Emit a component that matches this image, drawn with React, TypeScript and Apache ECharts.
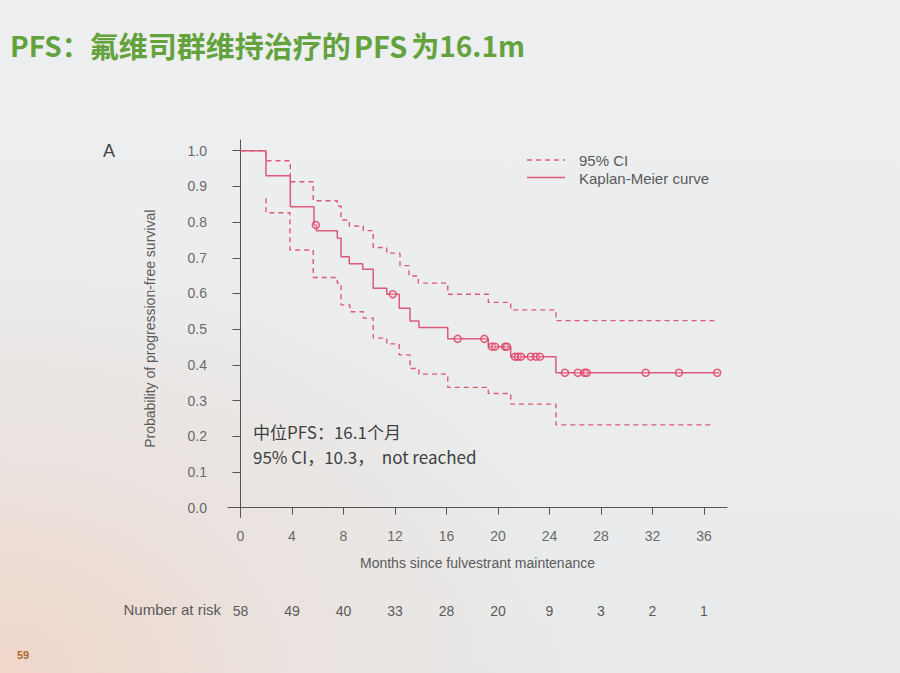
import React, { useEffect, useRef } from "react";
import * as echarts from "echarts";

// Kaplan-Meier step curve: [month, survival probability after the step]
const kmCurve: [number, number][] = [
  [0, 1.0], [1.98, 0.93], [3.87, 0.843], [5.71, 0.792], [5.9, 0.776], [7.52, 0.755],
  [7.81, 0.703], [8.45, 0.683], [9.49, 0.668], [10.31, 0.615], [11.36, 0.598],
  [12.33, 0.559], [13.17, 0.523], [13.86, 0.505], [16.1, 0.473], [19.25, 0.451],
  [20.99, 0.423], [24.5, 0.378], [37.2, 0.378],
];
const upperCI: [number, number][] = [
  [0, 1.0], [1.98, 0.972], [3.87, 0.913], [5.65, 0.86], [7.52, 0.845], [7.81, 0.806],
  [8.45, 0.789], [9.54, 0.776], [10.31, 0.729], [11.36, 0.713], [12.39, 0.678],
  [13.09, 0.649], [13.81, 0.629], [16.1, 0.598], [19.25, 0.575], [20.99, 0.554],
  [24.5, 0.524], [37.0, 0.524],
];
const lowerCI: [number, number][] = [
  [1.98, 0.867], [1.98, 0.826], [3.84, 0.722], [5.65, 0.645], [7.52, 0.629], [7.81, 0.568],
  [8.5, 0.549], [9.54, 0.531], [10.31, 0.475], [11.36, 0.459], [12.33, 0.428],
  [13.17, 0.39], [13.86, 0.374], [16.1, 0.337], [19.25, 0.32], [20.99, 0.29],
  [24.5, 0.232], [36.7, 0.232],
];
const censored: [number, number][] = [
  [5.85, 0.792], [11.83, 0.598], [16.87, 0.473], [18.94, 0.473], [19.53, 0.451],
  [19.77, 0.451], [20.55, 0.451], [20.7, 0.451], [21.32, 0.423], [21.55, 0.423],
  [21.79, 0.423], [22.54, 0.423], [22.95, 0.423], [23.26, 0.423], [25.2, 0.378],
  [26.2, 0.378], [26.72, 0.378], [26.89, 0.378], [31.47, 0.378], [34.06, 0.378],
  [37.03, 0.378],
];
const xTicks = [0, 4, 8, 12, 16, 20, 24, 28, 32, 36];
const yTicks = [0, 0.1, 0.2, 0.3, 0.4, 0.5, 0.6, 0.7, 0.8, 0.9, 1.0];
const riskCounts = [58, 49, 40, 33, 28, 20, 9, 3, 2, 1];
const legendNames = ["95% CI", "Kaplan-Meier curve"];
const noteLines = ["中位PFS：16.1个月", "95% CI，10.3，  not reached"];

const LINE = "#de5a7a";
const MARK = "#e03a5c";
const TXT = "#5a5a5a";
const GREEN = "#63a23c";
const FONT = "Liberation Sans, Arial, sans-serif";
const CJK = "Noto Sans CJK SC, sans-serif";

export default function App() {
  const ref = useRef<HTMLDivElement>(null);
  useEffect(() => {
    if (!ref.current) return;
    const chart = echarts.init(ref.current, undefined, { renderer: "svg" });
    const xMin = -0.97, xMax = 37.79;
    const titleStyle = (size: number, padding?: number[]) => ({
      fontFamily: CJK, fontSize: size, fontWeight: "bold", fill: GREEN, padding,
    });
    chart.setOption({
      animation: false,
      backgroundColor: "transparent",
      grid: { left: 228, top: 140, width: 499, height: 377.5 },
      xAxis: [
        {
          type: "value", min: xMin, max: xMax,
          name: "Months since fulvestrant maintenance", nameLocation: "middle", nameGap: 38,
          nameTextStyle: { fontFamily: FONT, fontSize: 14, color: TXT },
          axisLine: { lineStyle: { color: "#555", width: 1 } },
          axisTick: { customValues: xTicks, length: 7, lineStyle: { color: "#555" } },
          axisLabel: { customValues: xTicks, margin: 11, fontFamily: FONT, fontSize: 14, color: "#6a6a6a" },
          splitLine: { show: false },
        },
        {
          type: "value", min: xMin, max: xMax, position: "bottom", offset: 80,
          axisLine: { show: false }, axisTick: { show: false }, splitLine: { show: false },
          axisLabel: {
            customValues: xTicks, margin: 6, fontFamily: FONT, fontSize: 14, color: TXT,
            formatter: (v: number) => String(riskCounts[Math.round(v / 4)] ?? ""),
          },
        },
      ],
      yAxis: {
        type: "value", min: -0.0275, max: 1.03,
        name: "Probability of progression-free survival", nameLocation: "middle", nameGap: 71,
        nameTextStyle: { fontFamily: FONT, fontSize: 14, color: TXT },
        axisLine: { show: true, lineStyle: { color: "#555", width: 1 } },
        axisTick: { show: true, customValues: yTicks, length: 8, lineStyle: { color: "#555" } },
        axisLabel: {
          customValues: yTicks, margin: 21, fontFamily: FONT, fontSize: 14, color: "#6a6a6a",
          formatter: (v: number) => v.toFixed(1),
        },
        splitLine: { show: false },
      },
      series: [
        {
          name: legendNames[0], type: "line", step: "end", data: upperCI, symbol: "none",
          lineStyle: { color: LINE, width: 1.4, type: [5, 4] },
        },
        {
          name: legendNames[0], type: "line", step: "end", data: lowerCI, symbol: "none",
          lineStyle: { color: LINE, width: 1.4, type: [5, 4] },
        },
        {
          name: legendNames[1], type: "line", step: "end", data: kmCurve, symbol: "none",
          lineStyle: { color: LINE, width: 1.5 },
        },
        {
          name: "censored", type: "scatter", data: censored, symbol: "circle", symbolSize: 7,
          itemStyle: { color: "rgba(240,200,210,0.35)", borderColor: MARK, borderWidth: 1.5 },
          z: 5,
        },
      ],
      graphic: [
        {
          type: "text", left: 10, top: 30,
          style: {
            text: "{a|PFS：}{b|氟维司群维持治疗的}{c|PFS}{d|为16.1m}",
            rich: {
              a: titleStyle(28),
              b: titleStyle(29),
              c: titleStyle(29, [0, 4, 0, 3]),
              d: titleStyle(28),
            },
          },
        },
        { type: "text", left: 103, top: 142, style: { text: "A", fontFamily: FONT, fontSize: 18, fill: "#444" } },
        // legend
        { type: "line", shape: { x1: 527, y1: 160, x2: 565, y2: 160 }, style: { stroke: LINE, lineWidth: 1.4, lineDash: [5, 4] } },
        { type: "line", shape: { x1: 527, y1: 177.5, x2: 565, y2: 177.5 }, style: { stroke: LINE, lineWidth: 1.5 } },
        { type: "text", x: 579, y: 160, style: { text: legendNames[0], fontFamily: FONT, fontSize: 15, fill: TXT, verticalAlign: "middle" } },
        { type: "text", x: 579, y: 178, style: { text: legendNames[1], fontFamily: FONT, fontSize: 15, fill: TXT, verticalAlign: "middle" } },
        // median annotation
        { type: "text", x: 253, y: 431.5, style: { text: noteLines[0], fontFamily: CJK, fontSize: 17, fill: "#404040", verticalAlign: "middle" } },
        { type: "text", x: 253, y: 456.5, style: { text: noteLines[1], fontFamily: CJK, fontSize: 17, fill: "#404040", verticalAlign: "middle" } },
        {
          type: "text", right: 679, top: 602,
          style: { text: "Number at risk", fontFamily: FONT, fontSize: 15, fill: TXT },
        },
        {
          type: "text", left: 17, top: 649,
          style: { text: "59", fontFamily: FONT, fontSize: 11, fontWeight: "bold", fill: "#b0682a" },
        },
      ],
    });
    return () => chart.dispose();
  }, []);
  return (
    <div
      ref={ref}
      style={{
        position: "fixed", left: 0, top: 0, width: 900, height: 673,
        background:
          "radial-gradient(ellipse at 0% 100%, #efd6c8 0%, #eae2de 22%, rgba(233,235,236,0) 45%), linear-gradient(#edeff0, #e8eaeb)",
      }}
    />
  );
}
